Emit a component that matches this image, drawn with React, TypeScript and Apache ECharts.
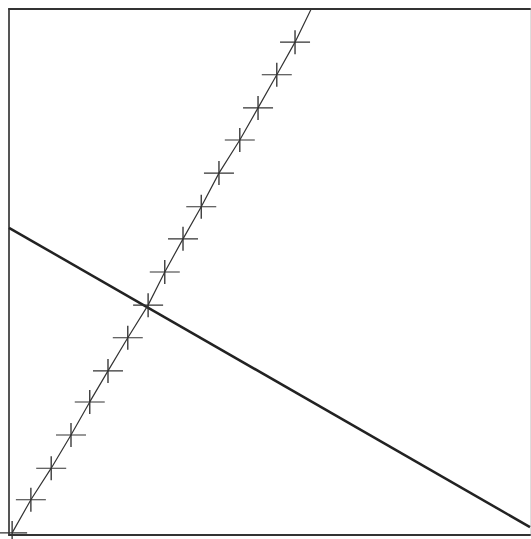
import React, { useEffect, useRef } from "react";
import * as echarts from "echarts";

// Rising series (marked with plus signs), x and y in axis units 0..100
const risingX = [0.6, 4.2, 8.1, 11.9, 15.5, 19.0, 22.8, 26.7, 29.9, 33.4, 36.9, 40.3, 44.3, 47.8, 51.4, 54.9, 58.0];
const risingY = [0.4, 6.7, 12.7, 19.0, 25.3, 31.2, 37.5, 43.7, 50.0, 56.3, 62.4, 68.8, 75.1, 81.2, 87.5, 93.7, 100];
// The last rising point is where the line leaves the box; it carries no marker
const risingMarked = [true, true, true, true, true, true, true, true, true, true, true, true, true, true, true, true, false];

// Falling straight line
const fallingX = [0, 100];
const fallingY = [58.4, 1.5];

export default function App() {
  const ref = useRef<HTMLDivElement>(null);
  useEffect(() => {
    if (!ref.current) return;
    const chart = echarts.init(ref.current, undefined, { renderer: "svg" });
    const axisCommon = {
      type: "value" as const,
      min: 0,
      max: 100,
      axisLabel: { show: false },
      axisTick: { show: false },
      splitLine: { show: false },
    };
    chart.setOption({
      animation: false,
      backgroundColor: "#ffffff",
      grid: { left: 9, top: 9, width: 521, height: 526, show: false },
      xAxis: [
        { ...axisCommon, position: "bottom", axisLine: { show: true, onZero: false, lineStyle: { color: "#333", width: 2 } } },
        { ...axisCommon, position: "top", axisLine: { show: true, onZero: false, lineStyle: { color: "#333", width: 2 } } },
      ],
      yAxis: [
        { ...axisCommon, position: "left", axisLine: { show: true, onZero: false, lineStyle: { color: "#555", width: 2 } } },
        { ...axisCommon, position: "right", axisLine: { show: true, onZero: false, lineStyle: { color: "#ddd", width: 1 } } },
      ],
      series: [
        {
          type: "line",
          xAxisIndex: 0,
          yAxisIndex: 0,
          data: fallingX.map((x, i) => [x, fallingY[i]]),
          symbol: "none",
          lineStyle: { color: "#222", width: 2.5 },
        },
        {
          type: "line",
          xAxisIndex: 0,
          yAxisIndex: 0,
          data: risingX.map((x, i) => ({
            value: [x, risingY[i]],
            symbol: risingMarked[i] ? "path://M0,12L30,12M15,0L15,24" : "none",
          })),
          symbolSize: [30, 24],
          showAllSymbol: true,
          clip: false,
          lineStyle: { color: "#333", width: 1.2 },
          itemStyle: { color: "transparent", borderColor: "#333", borderWidth: 1.2 },
        },
      ],
    });
    return () => chart.dispose();
  }, []);
  return (
    <div
      ref={ref}
      style={{ position: "fixed", left: 0, top: 0, width: 531, height: 539, background: "#fff" }}
    />
  );
}
